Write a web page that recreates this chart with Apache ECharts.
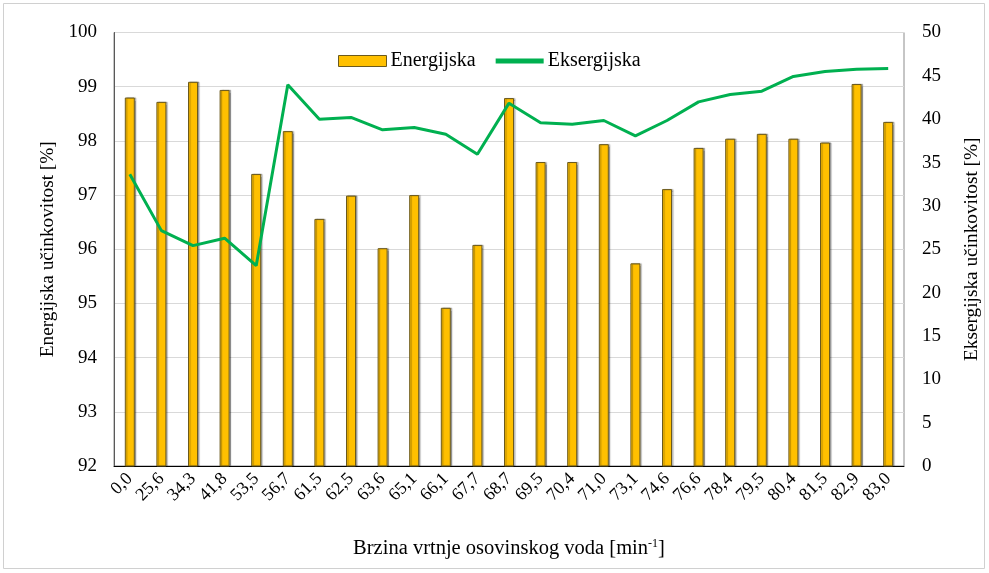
<!DOCTYPE html>
<html>
<head>
<meta charset="utf-8">
<script src="https://cdn.jsdelivr.net/npm/echarts@6/dist/echarts.min.js"></script>
<style>
  html, body { margin: 0; padding: 0; background: #fff; }
  #chart { width: 989px; height: 573px; }
</style>
</head>
<body>
<div id="chart"></div>
<script>
// Shaft rotation speed categories [min^-1]
const speeds = ['0,0','25,6','34,3','41,8','53,5','56,7','61,5','62,5','63,6','65,1','66,1','67,7','68,7',
                '69,5','70,4','71,0','73,1','74,6','76,6','78,4','79,5','80,4','81,5','82,9','83,0'];

// Energy efficiency [%] (left axis)
const energijska = [98.80, 98.72, 99.09, 98.94, 97.39, 98.18, 96.56, 96.99, 96.02, 97.00, 94.92, 96.08, 98.79,
                    97.61, 97.61, 97.94, 95.74, 97.11, 97.87, 98.04, 98.13, 98.04, 97.97, 99.05, 98.35];

// Exergy efficiency [%] (right axis)
const eksergijska = [33.66, 27.15, 25.42, 26.27, 23.11, 43.97, 40.0, 40.2, 38.77, 39.04, 38.27, 35.96, 41.85,
                     39.6, 39.42, 39.85, 38.08, 39.85, 42.0, 42.85, 43.23, 44.93, 45.5, 45.77, 45.85];

// Axis tick settings
const leftMin = 92, leftMax = 100, leftStep = 1;
const rightMin = 0, rightMax = 50, rightStep = 5;

const FONT = '"Liberation Serif", "Times New Roman", serif';
const chart = echarts.init(document.getElementById('chart'), null, { renderer: 'canvas' });

chart.setOption({
  animation: false,
  backgroundColor: '#fff',
  textStyle: { fontFamily: FONT, color: '#000' },
  graphic: [{
    type: 'rect',
    shape: { x: 3.5, y: 3.5, width: 981, height: 565 },
    style: { fill: 'none', stroke: '#d0d0d0', lineWidth: 1 },
    silent: true
  }],
  legend: {
    top: 46,
    left: 333,
    itemGap: 20,
    itemWidth: 48,
    itemHeight: 11,
    textStyle: { fontFamily: FONT, fontSize: 20, color: '#000', padding: [0, 0, 0, -1] },
    data: [
      { name: 'Energijska', icon: 'rect', itemStyle: { color: '#FFC000', borderColor: '#6b5a1e', borderWidth: 1 } },
      { name: 'Eksergijska', icon: 'path://M0,0 L10,0 L10,1 L0,1 Z', itemStyle: { color: '#00B050' } }
    ]
  },
  grid: {
    left: 114, right: 82, top: 32.5, bottom: 107,
    show: true, borderColor: '#8c8c8c', borderWidth: 1,
    containLabel: false
  },
  xAxis: {
    type: 'category',
    data: speeds,
    name: 'Brzina vrtnje osovinskog voda [{sup|min}{s|-1}{sup|]}',
    nameLocation: 'middle',
    nameGap: 72,
    nameTextStyle: {
      fontFamily: FONT, fontSize: 20.5, color: '#000',
      rich: {
        sup: { fontFamily: FONT, fontSize: 20.5, color: '#000' },
        s: { fontFamily: FONT, fontSize: 12, color: '#000', verticalAlign: 'top', padding: [0, 0, 9, 0] }
      }
    },
    axisLine: { lineStyle: { color: '#000', width: 1 } },
    axisTick: { show: false },
    axisLabel: { rotate: 45, fontFamily: FONT, fontSize: 18, color: '#000', margin: 10, interval: 0 }
  },
  yAxis: [
    {
      type: 'value',
      min: leftMin, max: leftMax, interval: leftStep,
      name: 'Energijska učinkovitost [%]',
      nameLocation: 'middle',
      nameGap: 56,
      nameTextStyle: { fontFamily: FONT, fontSize: 19.3, color: '#000' },
      axisLine: { show: true, lineStyle: { color: '#595959' } },
      axisTick: { show: false },
      axisLabel: { fontFamily: FONT, fontSize: 19, color: '#000', margin: 17 },
      splitLine: { show: true, lineStyle: { color: '#d9d9d9', width: 1 } }
    },
    {
      type: 'value',
      min: rightMin, max: rightMax, interval: rightStep,
      name: 'Eksergijska učinkovitost [%]',
      nameLocation: 'middle',
      nameGap: 58,
      nameRotate: 90,
      nameTextStyle: { fontFamily: FONT, fontSize: 19.3, color: '#000' },
      axisLine: { show: false },
      axisTick: { show: false },
      axisLabel: { fontFamily: FONT, fontSize: 19, color: '#000', margin: 18 },
      splitLine: { show: false }
    }
  ],
  series: [
    {
      name: 'Energijska',
      type: 'bar',
      yAxisIndex: 0,
      data: energijska,
      barWidth: 10,
      itemStyle: {
        color: '#FFC000',
        borderColor: '#6b5a1e',
        borderWidth: 1,
        shadowColor: 'rgba(0,0,0,0.3)',
        shadowOffsetX: 1.5,
        shadowOffsetY: 0,
        shadowBlur: 1
      }
    },
    {
      name: 'Eksergijska',
      type: 'line',
      yAxisIndex: 1,
      data: eksergijska,
      symbol: 'none',
      lineStyle: { color: '#00B050', width: 3 },
      itemStyle: { color: '#00B050' },
      z: 3
    }
  ]
});
</script>
</body>
</html>
